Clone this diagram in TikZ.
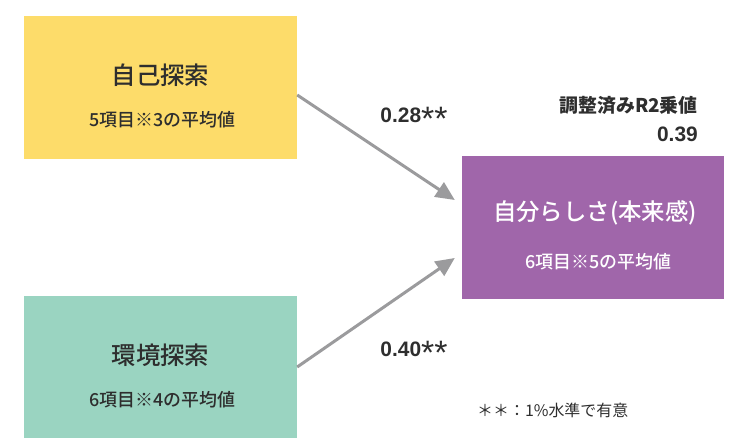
\documentclass[tikz,border=0pt]{standalone}
\usepackage{fontspec}
\setmainfont{Liberation Sans}
\newfontfamily\jp{Noto Sans CJK JP}
\newfontfamily\jpm{Noto Sans CJK JP Medium}
\usetikzlibrary{arrows.meta}
\definecolor{yel}{HTML}{FDDC6A}
\definecolor{grn}{HTML}{9AD4C1}
\definecolor{pur}{HTML}{A066AA}
\definecolor{arr}{HTML}{9B9B9D}
\definecolor{txt}{HTML}{2E2E2E}
\newcommand{\bigstars}{\raisebox{-8.5pt}{\mdseries\fontsize{34}{36}\selectfont **}}
\begin{document}
\begin{tikzpicture}[x=1bp,y=-1bp,
  boxst/.style={draw=none,minimum width=273bp,minimum height=143bp,inner sep=0pt},
  ttl/.style={font=\jpm\fontsize{24.5}{28}\selectfont,text=txt,inner sep=0pt},
  sub/.style={font=\jpm\fontsize{18}{21}\selectfont,text=txt,inner sep=0pt},
  num/.style={font=\bfseries\fontsize{21}{24}\selectfont,text=txt,inner sep=0pt},
  arrowline/.style={draw=arr,line width=3bp,-{Triangle[length=19bp,width=17bp]}}]
\useasboundingbox (0,0) rectangle (732,439);
\node[boxst,fill=yel] (yb) at (160.5,87.5) {};
\node[boxst,fill=grn,minimum height=142bp] (gb) at (160.5,367) {};
\node[boxst,fill=pur,minimum width=262bp] (pb) at (593,227.5) {};
\node[ttl] (yt) at (160.5,75) {自己探索};
\node[sub] (ys) at (162,120) {5項目※3の平均値};
\node[ttl] (gt) at (160.5,355) {環境探索};
\node[sub] (gs) at (162,400) {6項目※4の平均値};
\node[ttl,text=white,font=\jpm\fontsize{23.5}{27}\selectfont] (pt) at (595,213) {自分らしさ(本来感)};
\node[sub,text=white] (ps) at (598,262) {6項目※5の平均値};
\coordinate (a1s) at ([yshift=-7.5bp]yb.east);
\coordinate (a1e) at ([xshift=-7bp,yshift=27.5bp]pb.west);
\coordinate (a2s) at (gb.east);
\coordinate (a2e) at ([xshift=-7bp,yshift=-30.5bp]pb.west);
\draw[arrowline] (a1s) -- (a1e);
\draw[arrowline] (a2s) -- (a2e);
\node[num] (n1) at (414,119) {0.28\bigstars};
\node[num] (n2) at (414,353) {0.40\bigstars};
\node[font=\jp\bfseries\fontsize{19}{22}\selectfont,text=txt,inner sep=0pt,anchor=east] (r2) at (698,105) {調整済みR2乗値};
\node[num,anchor=east] (r2v) at (698,134) {0.39};
\node[font=\jp\fontsize{16}{19}\selectfont,text=txt,inner sep=0pt,anchor=west] (fn) at (477,410) {＊＊：1\%水準で有意};
\end{tikzpicture}
\end{document}
